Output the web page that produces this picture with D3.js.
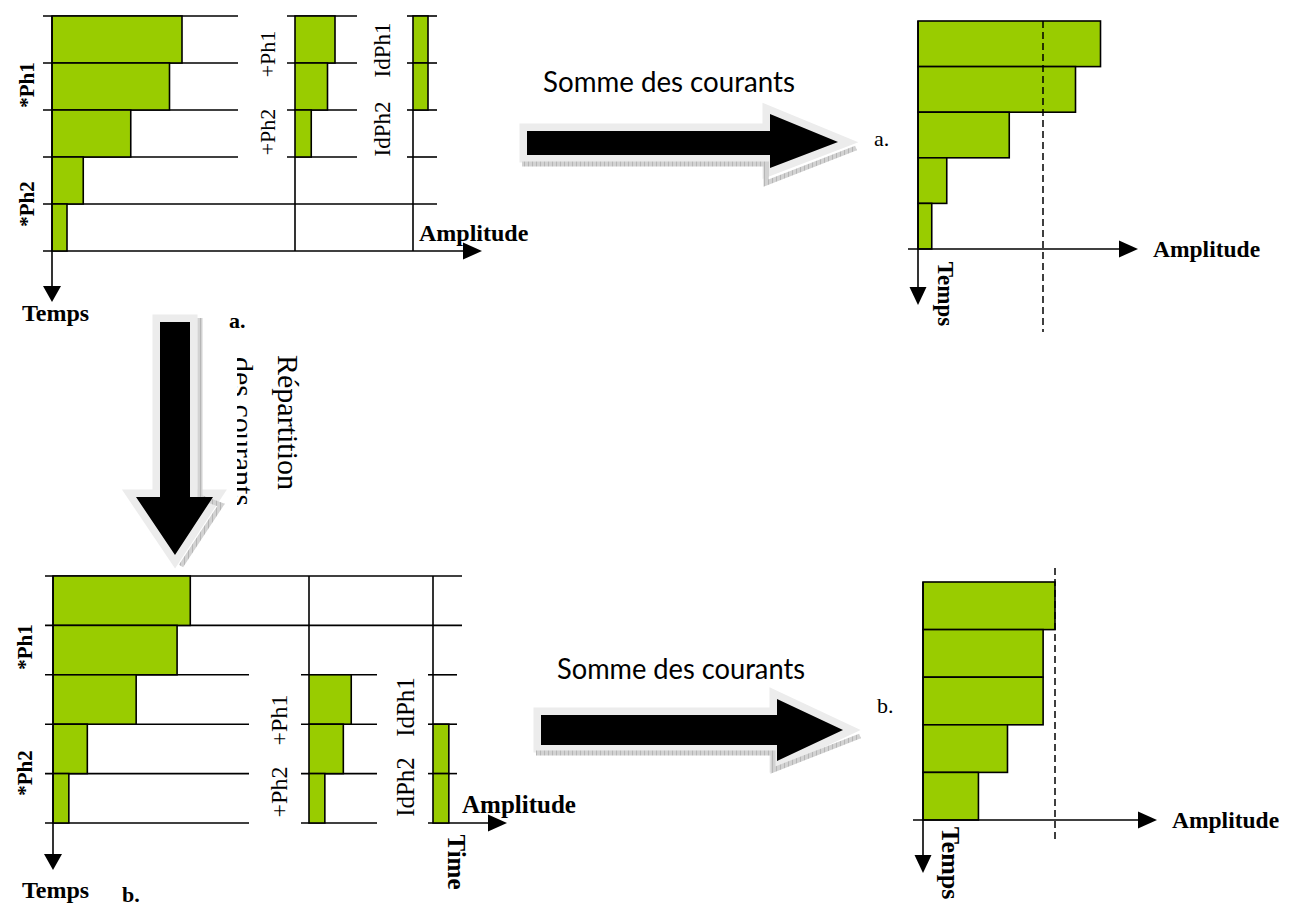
<!DOCTYPE html>
<html>
<head>
<meta charset="utf-8">
<script src="https://cdn.jsdelivr.net/npm/d3@7"></script>
<style>
  html, body { margin: 0; padding: 0; background: #ffffff; }
  svg { display: block; }
</style>
</head>
<body>
<svg id="fig" width="1297" height="909"></svg>
<script>
// ---- Data -------------------------------------------------------------
// Five consecutive time slots (top row = first slot)
const slots = [0, 1, 2, 3, 4];
const phaseLabels = ["*Ph1", "*Ph2"];
const auxLabels = ["+Ph1", "+Ph2"];
const idLabels = ["IdPh1", "IdPh2"];

// Case a: the extra currents are all placed on the first slots
const mainA = [104, 94, 63, 25, 12];
const plusSlotsA = [0, 1, 2];
const plusA = [32, 26, 13];
const idSlotsA = [0, 1];
const idA = [12, 12];
const sumA = [146, 126, 73, 23, 11];

// Case b: the extra currents are moved to the later slots
const mainB = [104, 94, 63, 26, 12];
const plusSlotsB = [2, 3, 4];
const plusB = [32, 26, 12];
const idSlotsB = [3, 4];
const idB = [12, 12];
const sumB = [100, 91, 91, 64, 42];

// Amplitude limit (dashed line)
const limit = 100;

// ---- Styles -------------------------------------------------------------
const GREEN = "#99cc00";
const SERIF = "'Liberation Serif', 'Times New Roman', serif";
const SANS = "Lato, 'Open Sans', sans-serif";
const LW = 1.6;

const svg = d3.select("#fig");

function hline(g, x1, x2, y) {
  g.append("line").attr("x1", x1).attr("x2", x2).attr("y1", y).attr("y2", y)
    .attr("stroke", "#000").attr("stroke-width", LW);
}
function vline(g, x, y1, y2) {
  g.append("line").attr("x1", x).attr("x2", x).attr("y1", y1).attr("y2", y2)
    .attr("stroke", "#000").attr("stroke-width", LW);
}
function headRight(g, xTip, y, len, half) {
  g.append("path").attr("d", `M${xTip},${y}L${xTip - len},${y - half}L${xTip - len},${y + half}Z`)
    .attr("fill", "#000");
}
function headDown(g, x, yTip, len, half) {
  g.append("path").attr("d", `M${x},${yTip}L${x - half},${yTip - len}L${x + half},${yTip - len}Z`)
    .attr("fill", "#000");
}
function bars(g, x, y, idx, vals) {
  g.selectAll(null).data(idx.map((s, i) => ({ s, v: vals[i] }))).join("rect")
    .attr("x", x(0)).attr("y", d => y(d.s))
    .attr("width", d => x(d.v) - x(0)).attr("height", d => y(d.s + 1) - y(d.s))
    .attr("fill", GREEN).attr("stroke", "#000").attr("stroke-width", LW);
}
function label(g, txt, x, y, opt = {}) {
  const t = g.append("text").text(txt)
    .attr("font-family", opt.family || SERIF)
    .attr("font-size", opt.size || 22)
    .attr("font-weight", opt.bold ? "bold" : "normal")
    .attr("fill", "#000");
  if (opt.rotate) {
    t.attr("transform", `translate(${x},${y}) rotate(${opt.rotate})`)
      .attr("text-anchor", opt.anchor || "middle")
      .attr("dominant-baseline", opt.baseline || "central");
  } else {
    t.attr("x", x).attr("y", y).attr("text-anchor", opt.anchor || "start");
  }
  return t;
}

// ---- Left panel: currents per phase ---------------------------------------
function detailPanel(cfg) {
  const g = svg.append("g");
  const y = d3.scaleLinear().domain([0, 5]).range(cfg.yRange);
  const xMain = d3.scaleLinear().domain([0, 100]).range([cfg.x0, cfg.x0 + cfg.w100]);
  const xPlus = d3.scaleLinear().domain([0, 100]).range([cfg.xPlus, cfg.xPlus + cfg.w100]);
  const xId = d3.scaleLinear().domain([0, 100]).range([cfg.xId, cfg.xId + cfg.w100]);

  // time grid
  cfg.grid(g, y);

  bars(g, xMain, y, slots, cfg.main);
  bars(g, xPlus, y, cfg.plusSlots, cfg.plus);
  bars(g, xId, y, cfg.idSlots, cfg.id);

  // axes
  vline(g, xMain(0), y(0), cfg.tTip - 4);
  headDown(g, xMain(0), cfg.tTip, 16, 9);
  headRight(g, cfg.aTip, y(5), 19, 8.5);

  // phase labels
  label(g, phaseLabels[0], cfg.phX, cfg.ph1Y, { rotate: -90, bold: true, size: 21 });
  label(g, phaseLabels[1], cfg.phX, cfg.ph2Y, { rotate: -90, bold: true, size: 21 });
  label(g, auxLabels[0], cfg.auxX, cfg.aux1Y, { rotate: -90, size: cfg.auxSize });
  label(g, auxLabels[1], cfg.auxX, cfg.aux2Y, { rotate: -90, size: cfg.auxSize });
  label(g, idLabels[0], cfg.idX, cfg.id1Y, { rotate: -90, size: cfg.auxSize + 1 });
  label(g, idLabels[1], cfg.idX, cfg.id2Y, { rotate: -90, size: cfg.auxSize + 1 });

  label(g, "Amplitude", cfg.ampX, cfg.ampY, { bold: true, size: cfg.ampSize });
  label(g, "Temps", cfg.tempsX, cfg.tempsY, { bold: true, size: 24 });
  label(g, cfg.tag, cfg.tagX, cfg.tagY, { bold: true, size: 22 });
  return { g, y };
}

// case a
detailPanel({
  yRange: [16, 251], x0: 52, w100: 125, xPlus: 295, xId: 413,
  main: mainA, plusSlots: plusSlotsA, plus: plusA, idSlots: idSlotsA, id: idA,
  tTip: 302, aTip: 482,
  grid: (g, y) => {
    [0, 1, 2, 3].forEach(i => {
      hline(g, 43, 238, y(i));
      hline(g, 287, 357, y(i));
      hline(g, 407, 437, y(i));
    });
    hline(g, 43, 437, y(4));
    hline(g, 43, 470, y(5));
    vline(g, 295, y(3), y(5));
    vline(g, 413, y(2), y(5));
  },
  phX: 27, ph1Y: 85, ph2Y: 204,
  auxX: 267, aux1Y: 54, aux2Y: 132, auxSize: 22,
  idX: 382, id1Y: 50, id2Y: 129,
  ampX: 419, ampY: 241, ampSize: 24,
  tempsX: 22, tempsY: 321,
  tag: "a.", tagX: 229, tagY: 328
});

// case b
const pb = detailPanel({
  yRange: [576, 823], x0: 53, w100: 132, xPlus: 309, xId: 433,
  main: mainB, plusSlots: plusSlotsB, plus: plusB, idSlots: idSlotsB, id: idB,
  tTip: 870, aTip: 507,
  grid: (g, y) => {
    [0, 1].forEach(i => hline(g, 45, 462, y(i)));
    [2, 3, 4, 5].forEach(i => {
      hline(g, 45, 249, y(i));
      hline(g, 301, 377, y(i));
    });
    [2, 3, 4].forEach(i => hline(g, 428, 457, y(i)));
    hline(g, 428, 495, y(5));
    vline(g, 309, y(0), y(2));
    vline(g, 433, y(0), y(3));
  },
  phX: 25, ph1Y: 647, ph2Y: 773,
  auxX: 279, aux1Y: 720, aux2Y: 792, auxSize: 24,
  idX: 405, id1Y: 707, id2Y: 787,
  ampX: 462, ampY: 813, ampSize: 25,
  tempsX: 22, tempsY: 898,
  tag: "b.", tagX: 122, tagY: 902
});
label(pb.g, "Time", 456, 862, { rotate: 90, bold: true, size: 25 });

// ---- Right panel: total current -------------------------------------------
function sumPanel(cfg) {
  const g = svg.append("g");
  const y = d3.scaleLinear().domain([0, 5]).range(cfg.yRange);
  const x = d3.scaleLinear().domain([0, 100]).range([cfg.x0, cfg.x0 + cfg.w100]);

  bars(g, x, y, slots, cfg.sum);

  // limit
  g.append("line").attr("x1", x(limit)).attr("x2", x(limit))
    .attr("y1", cfg.dashTop).attr("y2", cfg.dashBottom)
    .attr("stroke", "#000").attr("stroke-width", 1.5).attr("stroke-dasharray", "7,4");

  // axes
  vline(g, x(0), y(0), cfg.tTip - 4);
  headDown(g, x(0), cfg.tTip, 18, 8.5);
  hline(g, x(0) - 10, cfg.aTip - 10, y(5));
  headRight(g, cfg.aTip, y(5), 19, 8.5);

  label(g, "Amplitude", cfg.aTip + 15, y(5) + 8, { bold: true, size: 23.5 });
  label(g, "Temps", x(0) + 27, cfg.tempsY, { rotate: 90, bold: true, size: cfg.tempsSize });
  label(g, cfg.tag, cfg.tagX, cfg.tagY, { size: 22 });
}

sumPanel({
  yRange: [21, 249], x0: 918, w100: 125, sum: sumA,
  dashTop: 21, dashBottom: 332, tTip: 305, aTip: 1138,
  tempsY: 294, tempsSize: 23,
  tag: "a.", tagX: 874, tagY: 146
});
sumPanel({
  yRange: [582, 820], x0: 923, w100: 132, sum: sumB,
  dashTop: 568, dashBottom: 840, tTip: 873, aTip: 1157,
  tempsY: 863, tempsSize: 26,
  tag: "b.", tagX: 877, tagY: 713
});

// ---- Block arrows -----------------------------------------------------------
const defs = svg.append("defs");
const pat = defs.append("pattern").attr("id", "hatch").attr("patternUnits", "userSpaceOnUse")
  .attr("width", 4).attr("height", 4);
pat.append("rect").attr("width", 4).attr("height", 4).attr("fill", "#d2d2d2");
pat.append("line").attr("x1", 0).attr("y1", 0).attr("x2", 0).attr("y2", 4)
  .attr("stroke", "#9a9a9a").attr("stroke-width", 1);

function blockArrow(pts, relief) {
  const g = svg.append("g");
  const p = pts.map(d => d.join(",")).join(" ");
  g.append("polygon").attr("points", p)
    .attr("fill", "#ececec").attr("stroke", "#ececec").attr("stroke-width", 15)
    .attr("stroke-linejoin", "miter").attr("stroke-miterlimit", 10);
  g.append("polyline").attr("points", relief.map(d => d.join(",")).join(" "))
    .attr("fill", "none").attr("stroke", "url(#hatch)").attr("stroke-width", 5);
  g.append("polygon").attr("points", p).attr("fill", "#000");
  return g;
}

// "Somme des courants" arrow, case a
blockArrow([[527, 131], [770, 131], [770, 114], [838, 142], [770, 168], [770, 155], [527, 155]],
  [[522, 164], [766, 164], [766, 183], [856, 148]]);
// "Somme des courants" arrow, case b
blockArrow([[541, 715], [777, 715], [777, 699], [843, 730], [777, 761], [777, 745], [541, 745]],
  [[536, 753], [773, 753], [773, 770], [860, 736]]);
// "Répartition des courants" arrow
blockArrow([[160, 322], [190, 322], [190, 497], [213, 497], [175, 555], [136, 497], [160, 497]],
  [[200, 318], [200, 497], [221, 505], [181, 566]]);

const somme = "Somme des courants";
label(svg, somme, 543, 92, { family: SANS, size: 28 }).attr("textLength", 252).attr("lengthAdjust", "spacingAndGlyphs");
label(svg, somme, 557, 679, { family: SANS, size: 28 }).attr("textLength", 248).attr("lengthAdjust", "spacingAndGlyphs");

// rotated two-line caption; second line partly hidden by its box
defs.append("clipPath").attr("id", "capClip")
  .append("rect").attr("x", 237).attr("y", 300).attr("width", 100).attr("height", 260);
const cap = svg.append("g").attr("clip-path", "url(#capClip)");
label(cap, "Répartition", 278, 355, { rotate: 90, size: 30, anchor: "start", baseline: "alphabetic" });
label(cap, "des courants", 233, 357, { rotate: 90, size: 30, anchor: "start", baseline: "alphabetic" });
</script>
</body>
</html>
